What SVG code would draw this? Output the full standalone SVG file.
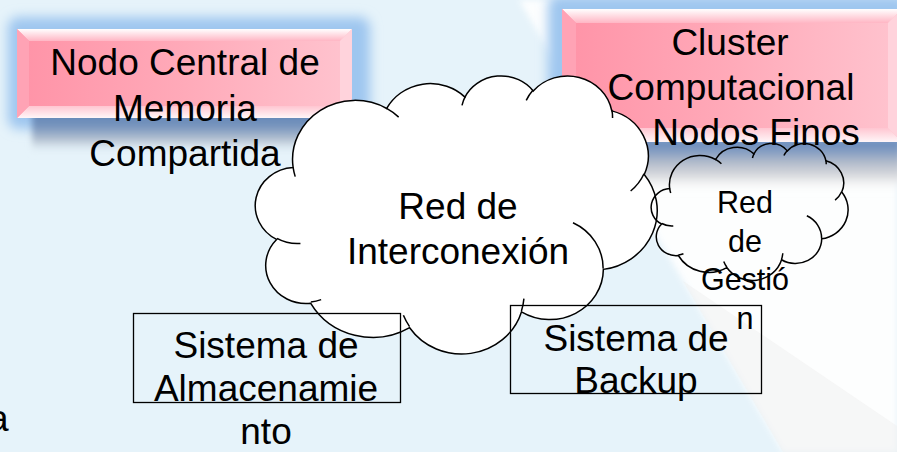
<svg xmlns="http://www.w3.org/2000/svg" xmlns:xlink="http://www.w3.org/1999/xlink" width="897" height="452" viewBox="0 0 897 452">
  <style>
    .txt { font-family: "Liberation Sans", Arial, sans-serif; font-size: 37px; fill: #000; text-anchor: middle; }
    .small { font-size: 30.5px; }
    .cloudFill { fill: #ffffff; stroke: #000; stroke-width: 1.5; }
    .cloudNoFill { fill: none; stroke: #000; stroke-width: 1.5; }
    .sysbox { fill: none; stroke: #000; stroke-width: 1.3; }
  </style>
  <defs>
    <filter id="blur6" x="-20%" y="-40%" width="140%" height="180%">
      <feGaussianBlur stdDeviation="6"/>
    </filter>
    <filter id="blur3" x="-10%" y="-30%" width="120%" height="160%">
      <feGaussianBlur stdDeviation="3"/>
    </filter>
    <linearGradient id="faceGrad" x1="0" y1="0" x2="1" y2="0">
      <stop offset="0" stop-color="#ff93a7"/>
      <stop offset="0.5" stop-color="#ffaab9"/>
      <stop offset="1" stop-color="#ffc4cf"/>
    </linearGradient>
    <linearGradient id="topBand" x1="0" y1="0" x2="0" y2="1">
      <stop offset="0" stop-color="#ffffff"/>
      <stop offset="1" stop-color="#ffb6c4"/>
    </linearGradient>
    <linearGradient id="botBand" x1="0" y1="0" x2="0" y2="1">
      <stop offset="0" stop-color="#ffc6d1"/>
      <stop offset="1" stop-color="#fff6f8"/>
    </linearGradient>
    <linearGradient id="shadowNodo" x1="0" y1="0" x2="0" y2="1">
      <stop offset="0" stop-color="#5a80b4"/>
      <stop offset="0.4" stop-color="#7794bd"/>
      <stop offset="0.7" stop-color="#b8c4d2"/>
      <stop offset="1" stop-color="#e6f3fa" stop-opacity="0"/>
    </linearGradient>
    <linearGradient id="shadowCluster" x1="0" y1="0" x2="0" y2="1">
      <stop offset="0" stop-color="#678abc"/>
      <stop offset="0.2" stop-color="#7b97c0"/>
      <stop offset="0.45" stop-color="#b3bccb"/>
      <stop offset="0.7" stop-color="#dcdde0"/>
      <stop offset="1" stop-color="#ffffff" stop-opacity="0"/>
    </linearGradient>
    <path id="cloudOutline" vector-effect="non-scaling-stroke" d="M 90.3 332.6 A 156.3 212.7 0 0 1 324.2 120.4 A 123.4 168.2 0 0 1 519.9 79.5 A 101.0 137.6 0 0 1 690.6 57.5 A 112.4 152.7 0 0 1 887.0 129.1 A 123.4 168.4 0 0 1 968.1 357.9 A 156.8 213.4 0 0 1 865.9 699.2 A 133.9 182.1 0 0 1 661.1 852.2 A 156.3 213.3 0 0 1 381.6 909.0 A 178.7 244.1 0 0 1 134.4 821.2 A 100.9 137.0 0 0 1 49.0 591.5 A 100.6 137.6 0 0 1 90.3 332.6 Z"/>
    <path id="cloudTails" vector-effect="non-scaling-stroke" fill="none" d="M 108.6 605.9 A 100.6 137.6 0 0 1 50.0 587.5 M 160.4 807.9 A 100.9 137.0 0 0 1 134.7 816.7 M 381.4 904.9 A 156.3 213.3 0 0 1 366.0 864.5 M 667.3 804.4 A 156.3 213.3 0 0 1 661.1 848.6 M 790.0 531.3 A 133.9 182.1 0 0 1 865.3 696.5 M 967.5 355.4 A 123.4 168.4 0 0 1 934.1 417.3 M 887.1 125.6 A 112.4 152.7 0 0 1 888.9 154.9 M 673.1 91.5 A 112.4 152.7 0 0 1 690.3 54.1 M 512.5 109.3 A 101.0 137.6 0 0 1 520.8 77.1 M 324.1 120.2 A 156.3 212.7 0 0 1 354.2 151.4 M 95.5 365.5 A 156.3 212.7 0 0 1 90.3 332.6"/>
  </defs>

  <!-- background -->
  <rect x="0" y="0" width="897" height="452" fill="#e6f3fa"/>
  <polygon points="519,0 897,0 897,452 783,452" fill="#ffffff" opacity="0.92" filter="url(#blur3)"/>
  <polygon points="683,281 897,426 897,452 783,452" fill="#f0f0f0" opacity="0.5"/>
  <text class="txt" x="-12" y="431" style="text-anchor:start">a</text>

  <!-- Nodo Central box -->
  <g id="nodo-central">
    <rect x="8" y="17" width="362" height="112" rx="10" fill="#9ec6ef" filter="url(#blur6)"/>
    <rect x="32" y="108" width="345" height="46" fill="url(#shadowNodo)" filter="url(#blur3)"/>
    <rect x="17" y="29" width="335" height="89" fill="url(#faceGrad)"/>
    <polygon points="17,29 352,29 340,41 29,41" fill="url(#topBand)"/>
    <polygon points="17,118 352,118 340,106 29,106" fill="url(#botBand)"/>
    <polygon points="17,29 29,41 29,106 17,118" fill="#ffa3b5"/>
    <polygon points="352,29 340,41 340,106 352,118" fill="#ffd3dc"/>
  </g>

  <!-- Cluster box -->
  <g id="cluster">
    <rect x="548" y="-5" width="360" height="150" rx="10" fill="#9ec6ef" filter="url(#blur6)"/>
    <rect x="552" y="138" width="350" height="55" fill="url(#shadowCluster)" filter="url(#blur3)"/>
    <rect x="562" y="9" width="340" height="133" fill="url(#faceGrad)"/>
    <polygon points="562,9 902,9 888,23 576,23" fill="url(#topBand)"/>
    <polygon points="562,142 902,142 888,128 576,128" fill="url(#botBand)"/>
    <polygon points="562,9 576,23 576,128 562,142" fill="#ffa3b5"/>
    <polygon points="902,9 888,23 888,128 902,142" fill="#ffd3dc"/>
  </g>

  <!-- Red de Interconexion cloud -->
  <g id="red-interconexion">
    <use xlink:href="#cloudOutline" class="cloudFill" transform="translate(257,75) scale(0.4,0.278)"/>
    <use xlink:href="#cloudTails" class="cloudNoFill" transform="translate(257,75) scale(0.4,0.278)"/>
    <text class="txt" x="458" y="219">Red de</text>
    <text class="txt" x="458" y="264">Interconexión</text>
  </g>

  <!-- Red de Gestion cloud -->
  <g id="red-gestion">
    <use xlink:href="#cloudOutline" class="cloudNoFill" transform="translate(652,143) scale(0.196,0.137)"/>
    <use xlink:href="#cloudTails" class="cloudNoFill" transform="translate(652,143) scale(0.196,0.137)"/>
    <text class="txt small" x="745" y="213">Red</text>
    <text class="txt small" x="745" y="251.5">de</text>
    <text class="txt small" x="745" y="290">Gestió</text>
    <text class="txt small" x="745" y="328.5">n</text>
  </g>

  <!-- box texts -->
  <g id="nodo-central-text">
    <text class="txt" x="185" y="75">Nodo Central de</text>
    <text class="txt" x="185" y="120.5">Memoria</text>
    <text class="txt" x="185" y="166">Compartida</text>
  </g>
  <g id="cluster-text">
    <text class="txt" x="730" y="55">Cluster</text>
    <text class="txt" x="731" y="100">Computacional</text>
    <text class="txt" x="756" y="145">Nodos Finos</text>
  </g>

  <!-- Sistema de Almacenamiento -->
  <g id="almacenamiento">
    <rect class="sysbox" x="133.5" y="313.5" width="267" height="89"/>
    <text class="txt" x="266" y="358">Sistema de</text>
    <text class="txt" x="266" y="401">Almacenamie</text>
    <text class="txt" x="266" y="444">nto</text>
  </g>

  <!-- Sistema de Backup -->
  <g id="backup">
    <rect class="sysbox" x="510.5" y="305.5" width="251" height="88"/>
    <text class="txt" x="636" y="350.5">Sistema de</text>
    <text class="txt" x="636" y="393">Backup</text>
  </g>

  <g id="connectors"/>
</svg>
